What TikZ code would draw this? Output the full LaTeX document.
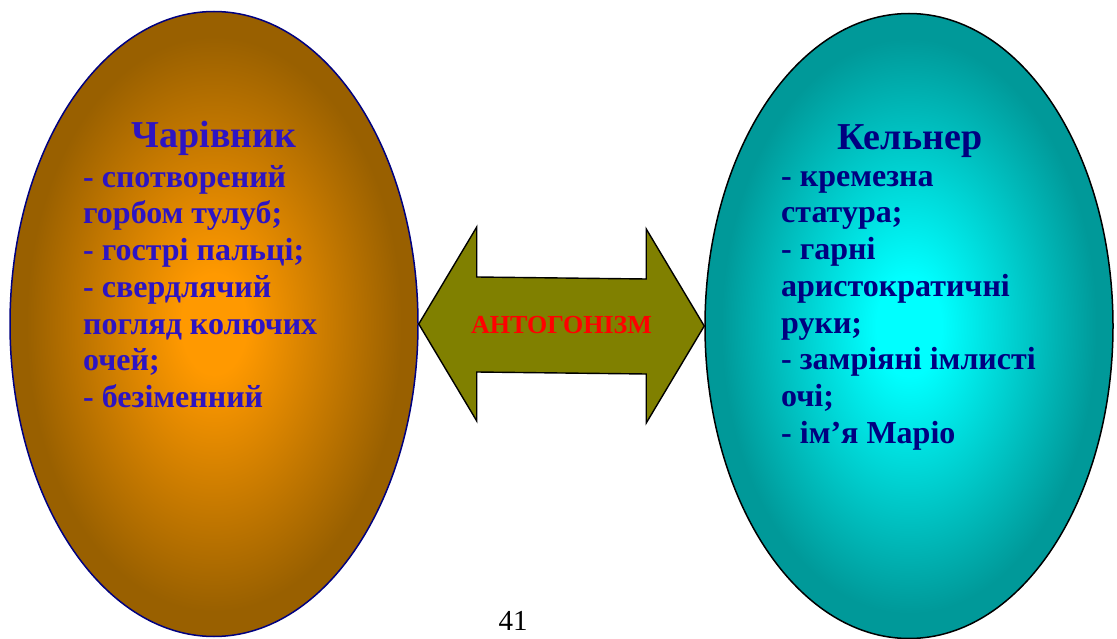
\documentclass[tikz,border=0pt]{standalone}
\usepackage{fontspec}
\setmainfont{Liberation Serif}
\usetikzlibrary{shapes.geometric,calc,positioning}
\definecolor{magbrown}{RGB}{153,96,0}
\definecolor{magorange}{RGB}{255,153,0}
\definecolor{waitteal}{RGB}{0,153,153}
\definecolor{waitcyan}{RGB}{0,255,255}
\definecolor{magtext}{RGB}{45,20,195}
\definecolor{waittext}{RGB}{0,0,128}
\definecolor{armolive}{RGB}{128,128,0}
\pgfdeclareradialshading{magglow}{\pgfpoint{0bp}{0bp}}{color(0bp)=(magorange); color(4bp)=(magorange); color(23bp)=(magbrown); color(50bp)=(magbrown)}
\pgfdeclareradialshading{waitglow}{\pgfpoint{0bp}{0bp}}{color(0bp)=(waitcyan); color(4bp)=(waitcyan); color(23bp)=(waitteal); color(50bp)=(waitteal)}
\tikzset{
  oval/.style={ellipse,inner sep=0pt,minimum width=408,minimum height=625,line width=1.5pt},
  headtxt/.style={font=\bfseries\fontsize{38}{44}\selectfont,inner sep=0pt},
  listtxt/.style={font=\bfseries\fontsize{32}{36.7}\selectfont,align=left,anchor=north west,inner sep=0pt},
  armbody/.style={draw=black,line width=1.4pt,fill=armolive,line join=miter}
}
\begin{document}
\begin{tikzpicture}[x=1pt,y=-1pt]
\useasboundingbox (0,0) rectangle (1117,639);
% the two characters
\node[oval,shading=magglow,draw=waittext] (mag) at (214,324) {};
\node[oval,shading=waitglow,draw=black] (wait) at (909,326) {};
% double arrow between them
\draw[armbody] (mag.east) -- ++(58,-97) -- ++(0,50) -- ($(wait.west)+(-58,-47)$) -- ++(0,-50)
  -- (wait.west) -- ++(-58,97) -- ++(0,-49) -- ($(mag.east)+(58,48)$) -- ++(0,49) -- cycle;
\node[font=\bfseries\fontsize{26}{30}\selectfont,text=red] (clash) at ($(mag.east)!0.5!(wait.west)$) {АНТОГОНІЗМ};
% texts
\node[headtxt,text=magtext] (magname) at (214,138) {Чарівник};
\node[listtxt,text=magtext] (maglist) at (83,165) {- спотворений\\горбом тулуб;\\- гострі пальці;\\- свердлячий\\погляд колючих\\очей;\\- безіменний};
\node[headtxt,text=waittext] (waitname) at (910,141) {Кельнер};
\node[listtxt,text=waittext] (waitlist) at (781,171) {- кремезна\\статура;\\- гарні\\аристократичні\\руки;\\- замріяні імлисті\\очі;\\- ім’я Маріо};
\node[font=\fontsize{29}{29}\selectfont,inner sep=0pt] (page) at (513,621) {41};
\end{tikzpicture}
\end{document}
